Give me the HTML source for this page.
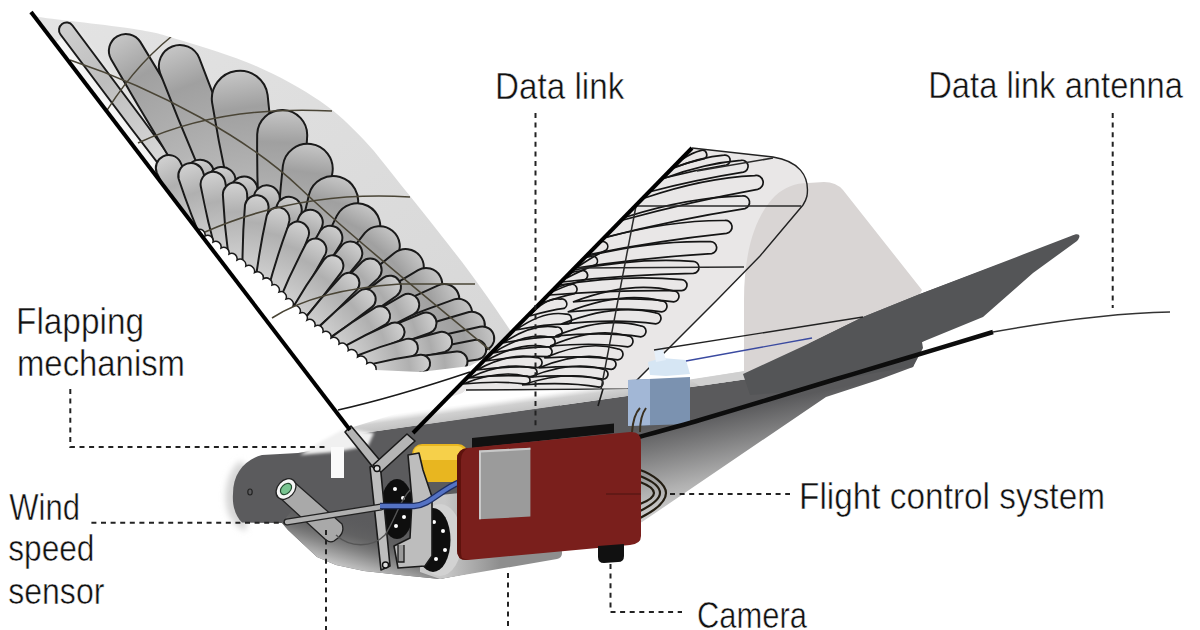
<!DOCTYPE html>
<html><head><meta charset="utf-8">
<style>
html,body{margin:0;padding:0;background:#fff;width:1200px;height:630px;overflow:hidden}
svg{display:block}
text{font-family:"Liberation Sans",sans-serif;font-size:36.4px;fill:#111;stroke:#fff;stroke-width:0.5px}
</style></head>
<body>
<svg width="1200" height="630" viewBox="0 0 1200 630">
<defs>
  <linearGradient id="lwing" x1="0" y1="0" x2="1" y2="1">
    <stop offset="0" stop-color="#e4e4e4"/>
    <stop offset="1" stop-color="#d4d4d4"/>
  </linearGradient>
  <linearGradient id="bodyg" x1="0" y1="0" x2="0" y2="1">
    <stop offset="0" stop-color="#4e4e4e"/>
    <stop offset="0.5" stop-color="#6a6a6a"/>
    <stop offset="1" stop-color="#e6e6e6"/>
  </linearGradient>
  <linearGradient id="tailbody" x1="0" y1="0" x2="0.3" y2="1">
    <stop offset="0" stop-color="#4a4a4a"/>
    <stop offset="0.55" stop-color="#8a8a8a"/>
    <stop offset="1" stop-color="#f0f0f0"/>
  </linearGradient>
  <clipPath id="lwclip"><path d="M31.0,12.0 C32.3,12.8 21.8,14.2 39.0,17.0 C56.2,19.8 110.5,25.2 134.0,29.0 C157.5,32.8 159.7,33.8 180.0,40.0 C200.3,46.2 232.7,55.8 256.0,66.0 C279.3,76.2 302.0,88.7 320.0,101.0 C338.0,113.3 350.5,126.0 364.0,140.0 C377.5,154.0 388.8,170.0 401.0,185.0 C413.2,200.0 425.8,215.8 437.0,230.0 C448.2,244.2 458.7,257.5 468.0,270.0 C477.3,282.5 485.7,294.5 493.0,305.0 C500.3,315.5 508.8,328.3 512.0,333.0 L528,343 L413,433 L350,430 Z"/></clipPath>
<linearGradient id="rearg" gradientUnits="userSpaceOnUse" x1="660" y1="425" x2="680" y2="520">
    <stop offset="0" stop-color="#5a5a5c"/><stop offset="0.25" stop-color="#7a7a7b"/><stop offset="0.65" stop-color="#b0b0b0"/><stop offset="1" stop-color="#d8d8d8"/></linearGradient>
  <linearGradient id="frontg" gradientUnits="userSpaceOnUse" x1="300" y1="440" x2="258" y2="580">
    <stop offset="0" stop-color="#5a5a5c"/><stop offset="0.64" stop-color="#5c5c5e"/><stop offset="0.75" stop-color="#959595"/><stop offset="0.86" stop-color="#c8c8c8"/><stop offset="1" stop-color="#e4e4e4"/></linearGradient>
  <linearGradient id="bandg" gradientUnits="userSpaceOnUse" x1="560" y1="405.4" x2="558" y2="391">
    <stop offset="0" stop-color="#c2c2c2"/><stop offset="0.5" stop-color="#d0d0d0"/><stop offset="0.85" stop-color="#f6f6f6"/><stop offset="1" stop-color="#ffffff"/></linearGradient>
<filter id="blur3" x="-50%" y="-50%" width="200%" height="200%"><feGaussianBlur stdDeviation="3"/></filter>
<filter id="blur2" x="-50%" y="-50%" width="200%" height="200%"><feGaussianBlur stdDeviation="1.5"/></filter>
<linearGradient id="bellyg" gradientUnits="userSpaceOnUse" x1="372" y1="520" x2="356" y2="574">
    <stop offset="0" stop-color="#5b5b5d" stop-opacity="0"/><stop offset="0.35" stop-color="#666" stop-opacity="0.6"/><stop offset="0.65" stop-color="#8c8c8c"/><stop offset="0.88" stop-color="#b8b8b8"/><stop offset="1" stop-color="#cfcfcf"/></linearGradient>
<linearGradient id="housg" gradientUnits="userSpaceOnUse" x1="445" y1="0" x2="500" y2="0">
    <stop offset="0" stop-color="#c8c8c8"/><stop offset="1" stop-color="#8e8e8e"/></linearGradient>
<linearGradient id="leglow" gradientUnits="userSpaceOnUse" x1="130" y1="142" x2="153.9" y2="123.8">
    <stop offset="0" stop-color="#fff" stop-opacity="0.85"/><stop offset="1" stop-color="#fff" stop-opacity="0"/></linearGradient>
<linearGradient id="lp0" gradientUnits="userSpaceOnUse" x1="62.0" y1="24.0" x2="206.0" y2="216.0"><stop offset="0" stop-color="#cfcfcf"/><stop offset="0.3" stop-color="#bdbdbd"/><stop offset="1" stop-color="#ececec"/></linearGradient>
<linearGradient id="lp1" gradientUnits="userSpaceOnUse" x1="117.0" y1="36.0" x2="236.0" y2="236.0"><stop offset="0" stop-color="#c6c6c6"/><stop offset="0.2" stop-color="#a0a0a0"/><stop offset="0.6" stop-color="#b6b6b6"/><stop offset="1" stop-color="#e2e2e2"/></linearGradient>
<linearGradient id="lp2" gradientUnits="userSpaceOnUse" x1="172.0" y1="46.0" x2="250.0" y2="246.0"><stop offset="0" stop-color="#c6c6c6"/><stop offset="0.2" stop-color="#a0a0a0"/><stop offset="0.6" stop-color="#b6b6b6"/><stop offset="1" stop-color="#e2e2e2"/></linearGradient>
<linearGradient id="lp3" gradientUnits="userSpaceOnUse" x1="236.0" y1="71.0" x2="262.0" y2="258.0"><stop offset="0" stop-color="#c6c6c6"/><stop offset="0.2" stop-color="#a0a0a0"/><stop offset="0.6" stop-color="#b6b6b6"/><stop offset="1" stop-color="#e2e2e2"/></linearGradient>
<linearGradient id="lp4" gradientUnits="userSpaceOnUse" x1="283.0" y1="110.0" x2="278.0" y2="272.0"><stop offset="0" stop-color="#c6c6c6"/><stop offset="0.2" stop-color="#a0a0a0"/><stop offset="0.6" stop-color="#b6b6b6"/><stop offset="1" stop-color="#e2e2e2"/></linearGradient>
<linearGradient id="lp5" gradientUnits="userSpaceOnUse" x1="311.0" y1="144.0" x2="292.0" y2="286.0"><stop offset="0" stop-color="#c6c6c6"/><stop offset="0.2" stop-color="#a0a0a0"/><stop offset="0.6" stop-color="#b6b6b6"/><stop offset="1" stop-color="#e2e2e2"/></linearGradient>
<linearGradient id="lp6" gradientUnits="userSpaceOnUse" x1="340.0" y1="177.0" x2="305.0" y2="300.0"><stop offset="0" stop-color="#c6c6c6"/><stop offset="0.2" stop-color="#a0a0a0"/><stop offset="0.6" stop-color="#b6b6b6"/><stop offset="1" stop-color="#e2e2e2"/></linearGradient>
<linearGradient id="lp7" gradientUnits="userSpaceOnUse" x1="368.0" y1="206.0" x2="312.0" y2="312.0"><stop offset="0" stop-color="#c6c6c6"/><stop offset="0.2" stop-color="#a0a0a0"/><stop offset="0.6" stop-color="#b6b6b6"/><stop offset="1" stop-color="#e2e2e2"/></linearGradient>
<linearGradient id="lp8" gradientUnits="userSpaceOnUse" x1="393.0" y1="230.0" x2="318.0" y2="322.0"><stop offset="0" stop-color="#c6c6c6"/><stop offset="0.2" stop-color="#a0a0a0"/><stop offset="0.6" stop-color="#b6b6b6"/><stop offset="1" stop-color="#e2e2e2"/></linearGradient>
<linearGradient id="lp9" gradientUnits="userSpaceOnUse" x1="420.0" y1="256.0" x2="322.0" y2="332.0"><stop offset="0" stop-color="#c6c6c6"/><stop offset="0.2" stop-color="#a0a0a0"/><stop offset="0.6" stop-color="#b6b6b6"/><stop offset="1" stop-color="#e2e2e2"/></linearGradient>
<linearGradient id="lp10" gradientUnits="userSpaceOnUse" x1="440.0" y1="276.0" x2="330.0" y2="340.0"><stop offset="0" stop-color="#c6c6c6"/><stop offset="0.2" stop-color="#a0a0a0"/><stop offset="0.6" stop-color="#b6b6b6"/><stop offset="1" stop-color="#e2e2e2"/></linearGradient>
<linearGradient id="lp11" gradientUnits="userSpaceOnUse" x1="458.0" y1="293.0" x2="335.0" y2="347.0"><stop offset="0" stop-color="#c6c6c6"/><stop offset="0.2" stop-color="#a0a0a0"/><stop offset="0.6" stop-color="#b6b6b6"/><stop offset="1" stop-color="#e2e2e2"/></linearGradient>
<linearGradient id="lp12" gradientUnits="userSpaceOnUse" x1="472.0" y1="308.0" x2="340.0" y2="354.0"><stop offset="0" stop-color="#c6c6c6"/><stop offset="0.2" stop-color="#a0a0a0"/><stop offset="0.6" stop-color="#b6b6b6"/><stop offset="1" stop-color="#e2e2e2"/></linearGradient>
<linearGradient id="lp13" gradientUnits="userSpaceOnUse" x1="485.0" y1="321.0" x2="345.0" y2="360.0"><stop offset="0" stop-color="#c6c6c6"/><stop offset="0.2" stop-color="#a0a0a0"/><stop offset="0.6" stop-color="#b6b6b6"/><stop offset="1" stop-color="#e2e2e2"/></linearGradient>
<linearGradient id="lp14" gradientUnits="userSpaceOnUse" x1="494.0" y1="336.0" x2="350.0" y2="366.0"><stop offset="0" stop-color="#c6c6c6"/><stop offset="0.2" stop-color="#a0a0a0"/><stop offset="0.6" stop-color="#b6b6b6"/><stop offset="1" stop-color="#e2e2e2"/></linearGradient>
<linearGradient id="lp15" gradientUnits="userSpaceOnUse" x1="486.0" y1="348.0" x2="355.0" y2="371.0"><stop offset="0" stop-color="#c6c6c6"/><stop offset="0.2" stop-color="#a0a0a0"/><stop offset="0.6" stop-color="#b6b6b6"/><stop offset="1" stop-color="#e2e2e2"/></linearGradient>
<linearGradient id="lm0" gradientUnits="userSpaceOnUse" x1="196.6" y1="160.1" x2="214.0" y2="230.0"><stop offset="0" stop-color="#d0d0d0"/><stop offset="0.3" stop-color="#acacac"/><stop offset="1" stop-color="#e8e8e8"/></linearGradient>
<linearGradient id="lm1" gradientUnits="userSpaceOnUse" x1="220.3" y1="167.1" x2="228.4" y2="239.0"><stop offset="0" stop-color="#d0d0d0"/><stop offset="0.3" stop-color="#acacac"/><stop offset="1" stop-color="#e8e8e8"/></linearGradient>
<linearGradient id="lm2" gradientUnits="userSpaceOnUse" x1="244.4" y1="175.5" x2="243.0" y2="248.1"><stop offset="0" stop-color="#d0d0d0"/><stop offset="0.3" stop-color="#acacac"/><stop offset="1" stop-color="#e8e8e8"/></linearGradient>
<linearGradient id="lm3" gradientUnits="userSpaceOnUse" x1="268.7" y1="185.2" x2="257.8" y2="257.3"><stop offset="0" stop-color="#d0d0d0"/><stop offset="0.3" stop-color="#acacac"/><stop offset="1" stop-color="#e8e8e8"/></linearGradient>
<linearGradient id="lm4" gradientUnits="userSpaceOnUse" x1="292.8" y1="196.4" x2="272.4" y2="266.8"><stop offset="0" stop-color="#d0d0d0"/><stop offset="0.3" stop-color="#acacac"/><stop offset="1" stop-color="#e8e8e8"/></linearGradient>
<linearGradient id="lm5" gradientUnits="userSpaceOnUse" x1="315.5" y1="210.5" x2="285.9" y2="277.8"><stop offset="0" stop-color="#d0d0d0"/><stop offset="0.3" stop-color="#acacac"/><stop offset="1" stop-color="#e8e8e8"/></linearGradient>
<linearGradient id="lm6" gradientUnits="userSpaceOnUse" x1="337.0" y1="226.6" x2="298.8" y2="289.8"><stop offset="0" stop-color="#d0d0d0"/><stop offset="0.3" stop-color="#acacac"/><stop offset="1" stop-color="#e8e8e8"/></linearGradient>
<linearGradient id="lm7" gradientUnits="userSpaceOnUse" x1="357.9" y1="244.1" x2="311.4" y2="302.0"><stop offset="0" stop-color="#d0d0d0"/><stop offset="0.3" stop-color="#acacac"/><stop offset="1" stop-color="#e8e8e8"/></linearGradient>
<linearGradient id="lm8" gradientUnits="userSpaceOnUse" x1="378.5" y1="262.1" x2="324.7" y2="313.5"><stop offset="0" stop-color="#d0d0d0"/><stop offset="0.3" stop-color="#acacac"/><stop offset="1" stop-color="#e8e8e8"/></linearGradient>
<linearGradient id="lm9" gradientUnits="userSpaceOnUse" x1="398.8" y1="280.3" x2="338.4" y2="324.5"><stop offset="0" stop-color="#d0d0d0"/><stop offset="0.3" stop-color="#acacac"/><stop offset="1" stop-color="#e8e8e8"/></linearGradient>
<linearGradient id="lm10" gradientUnits="userSpaceOnUse" x1="417.9" y1="299.6" x2="352.0" y2="335.5"><stop offset="0" stop-color="#d0d0d0"/><stop offset="0.3" stop-color="#acacac"/><stop offset="1" stop-color="#e8e8e8"/></linearGradient>
<linearGradient id="lm11" gradientUnits="userSpaceOnUse" x1="435.9" y1="319.3" x2="365.5" y2="346.4"><stop offset="0" stop-color="#d0d0d0"/><stop offset="0.3" stop-color="#acacac"/><stop offset="1" stop-color="#e8e8e8"/></linearGradient>
<linearGradient id="lm12" gradientUnits="userSpaceOnUse" x1="452.4" y1="339.6" x2="378.9" y2="357.3"><stop offset="0" stop-color="#d0d0d0"/><stop offset="0.3" stop-color="#acacac"/><stop offset="1" stop-color="#e8e8e8"/></linearGradient>
<linearGradient id="lm13" gradientUnits="userSpaceOnUse" x1="467.5" y1="360.4" x2="391.9" y2="368.3"><stop offset="0" stop-color="#d0d0d0"/><stop offset="0.3" stop-color="#acacac"/><stop offset="1" stop-color="#e8e8e8"/></linearGradient>
<linearGradient id="lc0" gradientUnits="userSpaceOnUse" x1="162.7" y1="155.6" x2="202.6" y2="237.4"><stop offset="0" stop-color="#d2d2d2"/><stop offset="0.35" stop-color="#b0b0b0"/><stop offset="1" stop-color="#d4d4d4"/></linearGradient>
<linearGradient id="lc1" gradientUnits="userSpaceOnUse" x1="186.8" y1="163.0" x2="214.6" y2="247.4"><stop offset="0" stop-color="#d2d2d2"/><stop offset="0.35" stop-color="#b0b0b0"/><stop offset="1" stop-color="#d4d4d4"/></linearGradient>
<linearGradient id="lc2" gradientUnits="userSpaceOnUse" x1="210.7" y1="172.0" x2="226.6" y2="257.2"><stop offset="0" stop-color="#d2d2d2"/><stop offset="0.35" stop-color="#b0b0b0"/><stop offset="1" stop-color="#d4d4d4"/></linearGradient>
<linearGradient id="lc3" gradientUnits="userSpaceOnUse" x1="234.4" y1="182.5" x2="238.6" y2="266.9"><stop offset="0" stop-color="#d2d2d2"/><stop offset="0.35" stop-color="#b0b0b0"/><stop offset="1" stop-color="#d4d4d4"/></linearGradient>
<linearGradient id="lc4" gradientUnits="userSpaceOnUse" x1="257.8" y1="194.1" x2="250.8" y2="276.2"><stop offset="0" stop-color="#d2d2d2"/><stop offset="0.35" stop-color="#b0b0b0"/><stop offset="1" stop-color="#d4d4d4"/></linearGradient>
<linearGradient id="lc5" gradientUnits="userSpaceOnUse" x1="280.5" y1="207.1" x2="263.1" y2="285.4"><stop offset="0" stop-color="#d2d2d2"/><stop offset="0.35" stop-color="#b0b0b0"/><stop offset="1" stop-color="#d4d4d4"/></linearGradient>
<linearGradient id="lc6" gradientUnits="userSpaceOnUse" x1="301.7" y1="222.0" x2="274.6" y2="295.3"><stop offset="0" stop-color="#d2d2d2"/><stop offset="0.35" stop-color="#b0b0b0"/><stop offset="1" stop-color="#d4d4d4"/></linearGradient>
<linearGradient id="lc7" gradientUnits="userSpaceOnUse" x1="320.9" y1="239.2" x2="285.2" y2="306.3"><stop offset="0" stop-color="#d2d2d2"/><stop offset="0.35" stop-color="#b0b0b0"/><stop offset="1" stop-color="#d4d4d4"/></linearGradient>
<linearGradient id="lc8" gradientUnits="userSpaceOnUse" x1="338.9" y1="257.2" x2="295.8" y2="317.2"><stop offset="0" stop-color="#d2d2d2"/><stop offset="0.35" stop-color="#b0b0b0"/><stop offset="1" stop-color="#d4d4d4"/></linearGradient>
<linearGradient id="lc9" gradientUnits="userSpaceOnUse" x1="356.3" y1="275.4" x2="307.0" y2="327.5"><stop offset="0" stop-color="#d2d2d2"/><stop offset="0.35" stop-color="#b0b0b0"/><stop offset="1" stop-color="#d4d4d4"/></linearGradient>
<linearGradient id="lc10" gradientUnits="userSpaceOnUse" x1="373.5" y1="292.8" x2="319.3" y2="336.5"><stop offset="0" stop-color="#d2d2d2"/><stop offset="0.35" stop-color="#b0b0b0"/><stop offset="1" stop-color="#d4d4d4"/></linearGradient>
<linearGradient id="lc11" gradientUnits="userSpaceOnUse" x1="389.3" y1="310.5" x2="331.6" y2="345.4"><stop offset="0" stop-color="#d2d2d2"/><stop offset="0.35" stop-color="#b0b0b0"/><stop offset="1" stop-color="#d4d4d4"/></linearGradient>
<linearGradient id="lc12" gradientUnits="userSpaceOnUse" x1="404.2" y1="328.0" x2="344.3" y2="354.0"><stop offset="0" stop-color="#d2d2d2"/><stop offset="0.35" stop-color="#b0b0b0"/><stop offset="1" stop-color="#d4d4d4"/></linearGradient>
<linearGradient id="lc13" gradientUnits="userSpaceOnUse" x1="417.9" y1="345.3" x2="357.1" y2="362.4"><stop offset="0" stop-color="#d2d2d2"/><stop offset="0.35" stop-color="#b0b0b0"/><stop offset="1" stop-color="#d4d4d4"/></linearGradient>
<linearGradient id="lc14" gradientUnits="userSpaceOnUse" x1="430.5" y1="362.3" x2="370.1" y2="370.8"><stop offset="0" stop-color="#d2d2d2"/><stop offset="0.35" stop-color="#b0b0b0"/><stop offset="1" stop-color="#d4d4d4"/></linearGradient>
</defs>

<!-- vertical tail fin -->


<!-- LEFT WING -->
<g clip-path="url(#lwclip)">
<rect x="0" y="0" width="600" height="450" fill="url(#lwing)"/>
<path d="M55,43 L205,238 L232,218 L80,24 Z" fill="url(#leglow)"/>
<path d="M201.2,219.6 Q129.9,127.7 60.5,34.5 A7.5,7.5 0 0 1 72.5,25.5 Q142.6,118.3 210.8,212.4" fill="url(#lp0)" stroke="#1a1a1a" stroke-width="2.0" stroke-linejoin="round"/>
<path d="M223.1,243.7 Q164.9,152.8 111.1,59.3 A17.0,17.0 0 0 1 140.3,41.9 Q196.8,133.8 248.9,228.3" fill="url(#lp1)" stroke="#1a1a1a" stroke-width="2.0" stroke-linejoin="round"/>
<path d="M236.0,251.5 Q195.1,163.5 160.1,73.2 A21.0,21.0 0 0 1 199.2,57.9 Q234.5,148.1 264.0,240.5" fill="url(#lp2)" stroke="#1a1a1a" stroke-width="2.0" stroke-linejoin="round"/>
<path d="M246.2,260.2 Q225.0,182.0 212.1,102.6 A28.0,28.0 0 0 1 267.6,94.9 Q276.9,174.8 277.8,255.8" fill="url(#lp3)" stroke="#1a1a1a" stroke-width="2.0" stroke-linejoin="round"/>
<path d="M263.0,271.5 Q256.4,202.8 257.2,134.2 A25.0,25.0 0 0 1 307.2,135.8 Q303.9,204.2 293.0,272.5" fill="url(#lp4)" stroke="#1a1a1a" stroke-width="2.0" stroke-linejoin="round"/>
<path d="M277.1,284.0 Q276.3,224.2 282.9,165.5 A25.0,25.0 0 0 1 332.5,172.1 Q323.4,230.5 306.9,288.0" fill="url(#lp5)" stroke="#1a1a1a" stroke-width="2.0" stroke-linejoin="round"/>
<path d="M290.6,295.9 Q296.2,244.0 309.1,194.2 A25.0,25.0 0 0 1 357.2,207.9 Q341.9,257.0 319.4,304.1" fill="url(#lp6)" stroke="#1a1a1a" stroke-width="2.0" stroke-linejoin="round"/>
<path d="M299.6,305.5 Q315.2,258.9 336.9,215.6 A23.0,23.0 0 0 1 377.6,237.1 Q354.0,279.4 324.4,318.5" fill="url(#lp7)" stroke="#1a1a1a" stroke-width="2.0" stroke-linejoin="round"/>
<path d="M307.9,313.8 Q334.1,271.4 364.9,232.9 A20.0,20.0 0 0 1 395.9,258.1 Q364.3,296.1 328.1,330.2" fill="url(#lp8)" stroke="#1a1a1a" stroke-width="2.0" stroke-linejoin="round"/>
<path d="M314.6,322.5 Q353.0,285.5 394.7,252.8 A18.0,18.0 0 0 1 416.8,281.3 Q374.7,313.5 329.4,341.5" fill="url(#lp9)" stroke="#1a1a1a" stroke-width="2.0" stroke-linejoin="round"/>
<path d="M324.5,330.5 Q370.1,298.3 418.1,270.2 A16.0,16.0 0 0 1 434.2,297.9 Q386.1,325.8 335.5,349.5" fill="url(#lp10)" stroke="#1a1a1a" stroke-width="2.0" stroke-linejoin="round"/>
<path d="M331.0,337.8 Q383.7,309.5 438.2,285.3 A15.0,15.0 0 0 1 450.3,312.8 Q395.6,336.5 339.0,356.2" fill="url(#lp11)" stroke="#1a1a1a" stroke-width="2.0" stroke-linejoin="round"/>
<path d="M337.0,345.5 Q394.9,320.5 454.2,299.4 A14.0,14.0 0 0 1 463.4,325.8 Q403.9,346.1 343.0,362.5" fill="url(#lp12)" stroke="#1a1a1a" stroke-width="2.0" stroke-linejoin="round"/>
<path d="M342.9,352.3 Q405.4,330.3 469.0,312.0 A13.0,13.0 0 0 1 476.0,337.0 Q412.1,354.2 347.1,367.7" fill="url(#lp13)" stroke="#1a1a1a" stroke-width="2.0" stroke-linejoin="round"/>
<path d="M348.6,359.1 Q413.8,341.2 479.8,326.7 A12.0,12.0 0 0 1 484.7,350.2 Q418.4,363.3 351.4,372.9" fill="url(#lp14)" stroke="#1a1a1a" stroke-width="2.0" stroke-linejoin="round"/>
<path d="M354.0,365.1 Q413.9,351.0 474.4,339.9 A10.0,10.0 0 0 1 477.9,359.6 Q417.2,369.7 356.0,376.9" fill="url(#lp15)" stroke="#1a1a1a" stroke-width="2.0" stroke-linejoin="round"/>
<path d="M204.5,232.4 Q193.4,205.2 186.4,177.1 A14.0,14.0 0 0 1 213.6,170.3 Q220.6,198.5 223.5,227.6" fill="url(#lm0)" stroke="#1a1a1a" stroke-width="2.0" stroke-linejoin="round"/>
<path d="M218.9,240.1 Q211.5,211.4 208.2,182.3 A13.7,13.7 0 0 1 235.5,179.2 Q238.8,208.3 238.0,237.9" fill="url(#lm1)" stroke="#1a1a1a" stroke-width="2.0" stroke-linejoin="round"/>
<path d="M233.7,247.9 Q230.2,218.2 230.8,188.6 A13.4,13.4 0 0 1 257.5,189.1 Q257.0,218.7 252.4,248.3" fill="url(#lm2)" stroke="#1a1a1a" stroke-width="2.0" stroke-linejoin="round"/>
<path d="M248.7,255.9 Q249.3,225.8 253.8,196.2 A13.1,13.1 0 0 1 279.7,200.1 Q275.2,229.7 266.8,258.7" fill="url(#lm3)" stroke="#1a1a1a" stroke-width="2.0" stroke-linejoin="round"/>
<path d="M263.9,264.3 Q268.6,234.2 277.0,205.1 A12.8,12.8 0 0 1 301.5,212.2 Q293.1,241.3 281.0,269.3" fill="url(#lm4)" stroke="#1a1a1a" stroke-width="2.0" stroke-linejoin="round"/>
<path d="M277.9,274.3 Q286.8,244.9 299.0,216.9 A12.5,12.5 0 0 1 321.9,226.9 Q309.6,254.9 293.9,281.3" fill="url(#lm5)" stroke="#1a1a1a" stroke-width="2.0" stroke-linejoin="round"/>
<path d="M291.5,285.4 Q304.4,257.1 320.3,230.7 A12.2,12.2 0 0 1 341.1,243.3 Q325.1,269.7 306.0,294.2" fill="url(#lm6)" stroke="#1a1a1a" stroke-width="2.0" stroke-linejoin="round"/>
<path d="M305.0,296.8 Q321.7,270.2 341.2,246.0 A11.8,11.8 0 0 1 359.7,260.8 Q340.2,285.1 317.9,307.1" fill="url(#lm7)" stroke="#1a1a1a" stroke-width="2.0" stroke-linejoin="round"/>
<path d="M319.1,307.7 Q339.5,283.5 362.2,261.7 A11.5,11.5 0 0 1 378.1,278.4 Q355.4,300.1 330.3,319.4" fill="url(#lm8)" stroke="#1a1a1a" stroke-width="2.0" stroke-linejoin="round"/>
<path d="M333.8,318.1 Q357.5,296.6 383.1,277.9 A11.2,11.2 0 0 1 396.4,296.0 Q370.7,314.8 343.1,330.8" fill="url(#lm9)" stroke="#1a1a1a" stroke-width="2.0" stroke-linejoin="round"/>
<path d="M348.3,328.8 Q374.9,310.6 403.1,295.2 A10.9,10.9 0 0 1 413.5,314.4 Q385.4,329.8 355.6,342.3" fill="url(#lm10)" stroke="#1a1a1a" stroke-width="2.0" stroke-linejoin="round"/>
<path d="M362.9,339.5 Q391.9,324.9 422.2,313.2 A10.6,10.6 0 0 1 429.8,333.0 Q399.6,344.7 368.2,353.3" fill="url(#lm11)" stroke="#1a1a1a" stroke-width="2.0" stroke-linejoin="round"/>
<path d="M377.2,350.3 Q408.2,339.7 440.0,332.0 A10.3,10.3 0 0 1 444.8,352.0 Q413.1,359.7 380.5,364.3" fill="url(#lm12)" stroke="#1a1a1a" stroke-width="2.0" stroke-linejoin="round"/>
<path d="M391.2,361.4 Q423.7,354.9 456.5,351.5 A10.0,10.0 0 0 1 458.6,371.4 Q425.8,374.8 392.6,375.3" fill="url(#lm13)" stroke="#1a1a1a" stroke-width="2.0" stroke-linejoin="round"/>
<path d="M194.5,241.4 Q173.8,208.0 156.8,173.0 A13.0,13.0 0 0 1 180.1,161.6 Q197.2,196.6 210.8,233.4" fill="url(#lc0)" stroke="#1a1a1a" stroke-width="2.0" stroke-linejoin="round"/>
<path d="M206.2,250.2 Q190.6,215.2 178.7,179.0 A12.7,12.7 0 0 1 202.8,171.1 Q214.8,207.2 223.1,244.6" fill="url(#lc1)" stroke="#1a1a1a" stroke-width="2.0" stroke-linejoin="round"/>
<path d="M218.1,258.8 Q207.6,223.0 200.8,186.5 A12.4,12.4 0 0 1 225.2,181.9 Q232.0,218.4 235.2,255.6" fill="url(#lc2)" stroke="#1a1a1a" stroke-width="2.0" stroke-linejoin="round"/>
<path d="M230.1,267.4 Q224.7,231.4 222.9,195.2 A12.1,12.1 0 0 1 247.1,194.0 Q248.9,230.2 247.1,266.5" fill="url(#lc3)" stroke="#1a1a1a" stroke-width="2.0" stroke-linejoin="round"/>
<path d="M242.6,275.5 Q242.0,240.1 245.0,204.9 A11.9,11.9 0 0 1 268.6,206.9 Q265.6,242.1 259.1,276.9" fill="url(#lc4)" stroke="#1a1a1a" stroke-width="2.0" stroke-linejoin="round"/>
<path d="M255.2,283.6 Q259.3,249.4 266.7,215.8 A11.6,11.6 0 0 1 289.3,220.9 Q281.8,254.4 271.0,287.2" fill="url(#lc5)" stroke="#1a1a1a" stroke-width="2.0" stroke-linejoin="round"/>
<path d="M267.2,292.6 Q275.6,260.1 287.2,228.7 A11.3,11.3 0 0 1 308.4,236.5 Q296.8,267.9 282.0,298.1" fill="url(#lc6)" stroke="#1a1a1a" stroke-width="2.0" stroke-linejoin="round"/>
<path d="M278.4,302.7 Q290.7,272.5 306.0,243.8 A11.0,11.0 0 0 1 325.4,254.1 Q310.2,282.8 292.0,309.9" fill="url(#lc7)" stroke="#1a1a1a" stroke-width="2.0" stroke-linejoin="round"/>
<path d="M289.7,312.8 Q305.6,285.3 324.0,259.7 A10.7,10.7 0 0 1 341.4,272.2 Q323.0,297.8 301.9,321.6" fill="url(#lc8)" stroke="#1a1a1a" stroke-width="2.0" stroke-linejoin="round"/>
<path d="M301.7,322.4 Q320.5,298.0 341.6,275.8 A10.4,10.4 0 0 1 356.7,290.1 Q335.7,312.4 312.3,332.5" fill="url(#lc9)" stroke="#1a1a1a" stroke-width="2.0" stroke-linejoin="round"/>
<path d="M314.8,330.9 Q336.1,309.9 359.2,291.3 A10.1,10.1 0 0 1 371.9,307.1 Q348.8,325.7 323.7,342.0" fill="url(#lc10)" stroke="#1a1a1a" stroke-width="2.0" stroke-linejoin="round"/>
<path d="M328.1,339.5 Q351.2,322.1 375.8,307.2 A9.9,9.9 0 0 1 386.0,324.1 Q361.4,339.0 335.2,351.3" fill="url(#lc11)" stroke="#1a1a1a" stroke-width="2.0" stroke-linejoin="round"/>
<path d="M341.6,347.8 Q366.1,334.1 391.6,323.0 A9.6,9.6 0 0 1 399.2,340.6 Q373.7,351.7 347.0,360.1" fill="url(#lc12)" stroke="#1a1a1a" stroke-width="2.0" stroke-linejoin="round"/>
<path d="M355.4,356.2 Q380.5,346.2 406.5,338.9 A9.3,9.3 0 0 1 411.5,356.8 Q385.6,364.1 358.9,368.7" fill="url(#lc13)" stroke="#1a1a1a" stroke-width="2.0" stroke-linejoin="round"/>
<path d="M369.2,364.6 Q394.6,358.3 420.3,354.7 A9.0,9.0 0 0 1 422.8,372.5 Q397.1,376.1 370.9,377.1" fill="url(#lc14)" stroke="#1a1a1a" stroke-width="2.0" stroke-linejoin="round"/>
<path d="M194.0,226.0 L197.0,230.0 A5.5,5.5 0 0 1 205.0,236.0 A5.5,5.5 0 0 1 213.0,242.0 A5.5,5.5 0 0 1 221.0,248.0 A5.5,5.5 0 0 1 229.0,254.0 A5.5,5.5 0 0 1 237.0,260.0 A5.9,5.9 0 0 1 245.8,266.2 A5.9,5.9 0 0 1 254.5,272.5 A5.9,5.9 0 0 1 263.2,278.8 A5.9,5.9 0 0 1 272.0,285.0 A5.4,5.4 0 0 1 279.0,292.0 A5.4,5.4 0 0 1 286.0,299.0 A5.4,5.4 0 0 1 293.0,306.0 A5.4,5.4 0 0 1 300.0,313.0 A5.4,5.4 0 0 1 307.0,320.0 A5.5,5.5 0 0 1 315.0,326.0 A5.5,5.5 0 0 1 323.0,332.0 A5.5,5.5 0 0 1 331.0,338.0 A5.5,5.5 0 0 1 339.0,344.0 A6.2,6.2 0 0 1 348.2,350.5 A6.2,6.2 0 0 1 357.5,357.0 A6.2,6.2 0 0 1 366.8,363.5 A6.2,6.2 0 0 1 376.0,370.0 L420,372 L470,366 L505,346 L522,338 L528,343 L413,433 L350,430 Z" fill="#fff"/><path d="M197,230 L197.0,230.0 A5.5,5.5 0 0 1 205.0,236.0 A5.5,5.5 0 0 1 213.0,242.0 A5.5,5.5 0 0 1 221.0,248.0 A5.5,5.5 0 0 1 229.0,254.0 A5.5,5.5 0 0 1 237.0,260.0 A5.9,5.9 0 0 1 245.8,266.2 A5.9,5.9 0 0 1 254.5,272.5 A5.9,5.9 0 0 1 263.2,278.8 A5.9,5.9 0 0 1 272.0,285.0 A5.4,5.4 0 0 1 279.0,292.0 A5.4,5.4 0 0 1 286.0,299.0 A5.4,5.4 0 0 1 293.0,306.0 A5.4,5.4 0 0 1 300.0,313.0 A5.4,5.4 0 0 1 307.0,320.0 A5.5,5.5 0 0 1 315.0,326.0 A5.5,5.5 0 0 1 323.0,332.0 A5.5,5.5 0 0 1 331.0,338.0 A5.5,5.5 0 0 1 339.0,344.0 A6.2,6.2 0 0 1 348.2,350.5 A6.2,6.2 0 0 1 357.5,357.0 A6.2,6.2 0 0 1 366.8,363.5 A6.2,6.2 0 0 1 376.0,370.0" fill="none" stroke="#1a1a1a" stroke-width="1.5"/>
<g fill="none" stroke="#4a4536" stroke-width="1.6">
<path d="M70,60 C160,90 250,140 300,188 S430,300 490,350"/>
<path d="M172,36 Q130,70 100,122"/>
<path d="M138,143 Q220,105 332,111"/>
<path d="M205,232 Q300,190 410,197"/>
<path d="M272,318 C300,300 340,288 400,284 L475,284"/>
</g>
<path d="M338,410 Q392,398 470,372" fill="none" stroke="#1a1a1a" stroke-width="1.6"/>
</g>

<!-- RIGHT WING -->
<clipPath id="rwclip"><path d="M692,148 L773,157 C798,161 810,175 807,196 C806,200 805,202 803,205 L760,256 L717,300 L628,389 L466,390 L413,433 Z"/></clipPath>
<path id="rwmem" d="M692,148 L773,157 C798,161 810,175 807,196 C806,200 805,202 803,205 L760,256 L717,300 L628,389 L466,390 L413,433 Z" fill="#e9e7e7"/>
<path id="fin" d="M744,376 L744,300 C744,252 755,216 775,196 C785,187 795,183 808,183 L824,182 Q836,182 843,190 L922,290 L900,330 L760,376 Z" fill="#d9d5d4"/>
<g clip-path="url(#rwclip)">
<path d="M682.7,159.0 Q692.3,152.5 701.3,150.3 A4.5,4.5 0 0 1 704.3,158.7 Q689.3,162.2 674.9,167.0" fill="none" stroke="#151515" stroke-width="1.7" stroke-linejoin="round"/>
<path d="M673.9,168.0 Q700.6,157.3 724.0,155.2 A5.0,5.0 0 0 1 726.2,165.0 Q694.9,170.0 664.1,178.0" fill="none" stroke="#151515" stroke-width="1.7" stroke-linejoin="round"/>
<path d="M663.6,178.5 Q704.9,163.1 740.8,160.4 A6.0,6.0 0 0 1 743.4,172.2 Q696.7,179.6 650.9,191.5" fill="none" stroke="#151515" stroke-width="1.7" stroke-linejoin="round"/>
<path d="M644.6,198.0 Q703.4,177.9 754.7,175.6 A7.0,7.0 0 0 1 757.6,189.3 Q689.7,201.6 623.0,220.0" fill="none" stroke="#151515" stroke-width="1.7" stroke-linejoin="round"/>
<path d="M626.0,217.0 Q688.4,197.3 742.4,195.9 A6.5,6.5 0 0 1 744.9,208.6 Q675.0,219.6 606.4,237.0" fill="none" stroke="#151515" stroke-width="1.7" stroke-linejoin="round"/>
<path d="M605.9,237.5 Q670.0,220.1 724.6,220.5 A6.5,6.5 0 0 1 726.5,233.4 Q657.4,240.7 589.2,254.5" fill="none" stroke="#151515" stroke-width="1.7" stroke-linejoin="round"/>
<path d="M587.8,256.0 Q654.3,240.0 710.4,241.7 A6.0,6.0 0 0 1 711.7,253.6 Q643.5,257.6 576.0,268.0" fill="none" stroke="#151515" stroke-width="1.7" stroke-linejoin="round"/>
<path d="M574.1,270.0 Q638.7,257.4 692.6,261.4 A6.0,6.0 0 0 1 693.4,273.4 Q627.7,274.6 562.3,282.0" fill="none" stroke="#151515" stroke-width="1.7" stroke-linejoin="round"/>
<path d="M559.4,285.0 Q626.1,274.1 681.3,279.7 A5.5,5.5 0 0 1 681.7,290.7 Q615.5,289.7 549.6,295.0" fill="none" stroke="#151515" stroke-width="1.7" stroke-linejoin="round"/>
<path d="M572.9,302.0 Q630.2,280.3 673.2,290.8 A5.5,5.5 0 0 1 673.8,301.8 Q631.1,295.7 572.9,302.0" fill="none" stroke="#151515" stroke-width="1.7" stroke-linejoin="round"/>
<path d="M567.7,312.0 Q621.2,290.9 661.2,300.8 A5.5,5.5 0 0 1 661.8,311.8 Q622.1,306.2 567.7,312.0" fill="none" stroke="#151515" stroke-width="1.7" stroke-linejoin="round"/>
<path d="M561.3,324.0 Q615.1,302.8 655.2,312.8 A5.5,5.5 0 0 1 655.8,323.8 Q616.0,318.2 561.3,324.0" fill="none" stroke="#151515" stroke-width="1.7" stroke-linejoin="round"/>
<path d="M555.4,336.0 Q604.3,316.1 640.2,325.8 A5.5,5.5 0 0 1 640.8,336.8 Q605.1,331.5 555.4,336.0" fill="none" stroke="#151515" stroke-width="1.7" stroke-linejoin="round"/>
<path d="M550.1,346.0 Q594.7,326.7 627.2,335.8 A5.5,5.5 0 0 1 627.8,346.8 Q595.6,342.1 550.1,346.0" fill="none" stroke="#151515" stroke-width="1.7" stroke-linejoin="round"/>
<path d="M544.2,358.0 Q586.7,339.6 617.2,348.8 A5.5,5.5 0 0 1 617.8,359.8 Q587.5,355.0 544.2,358.0" fill="none" stroke="#151515" stroke-width="1.7" stroke-linejoin="round"/>
<path d="M538.6,368.0 Q580.4,350.6 610.7,359.3 A5.0,5.0 0 0 1 611.3,369.3 Q581.1,364.6 538.6,368.0" fill="none" stroke="#151515" stroke-width="1.7" stroke-linejoin="round"/>
<path d="M529.8,377.0 Q572.2,360.1 602.8,369.2 A5.0,5.0 0 0 1 603.2,379.2 Q572.8,374.1 529.8,377.0" fill="none" stroke="#151515" stroke-width="1.7" stroke-linejoin="round"/>
<path d="M522.0,385.0 Q566.2,370.2 598.9,379.1 A4.0,4.0 0 0 1 599.1,387.1 Q566.5,381.4 522.0,385.0" fill="none" stroke="#151515" stroke-width="1.7" stroke-linejoin="round"/>
<path d="M577.5,267.0 Q586.1,244.5 600.0,242.3 A5.0,5.0 0 0 1 606.3,250.0 Q595.0,255.3 577.5,267.0" fill="none" stroke="#151515" stroke-width="1.7" stroke-linejoin="round"/>
<path d="M566.7,278.0 Q576.8,257.1 590.1,256.6 A5.0,5.0 0 0 1 595.6,264.9 Q584.5,268.8 566.7,278.0" fill="none" stroke="#151515" stroke-width="1.7" stroke-linejoin="round"/>
<path d="M554.0,291.0 Q566.4,270.6 580.2,271.0 A5.0,5.0 0 0 1 585.0,279.8 Q573.1,282.8 554.0,291.0" fill="none" stroke="#151515" stroke-width="1.7" stroke-linejoin="round"/>
<path d="M542.3,303.0 Q556.3,283.2 570.4,284.6 A5.0,5.0 0 0 1 574.6,293.6 Q562.2,296.0 542.3,303.0" fill="none" stroke="#151515" stroke-width="1.7" stroke-linejoin="round"/>
<path d="M529.5,316.0 Q545.9,296.9 560.6,299.1 A5.0,5.0 0 0 1 564.1,308.4 Q550.8,310.0 529.5,316.0" fill="none" stroke="#151515" stroke-width="1.7" stroke-linejoin="round"/>
<path d="M515.8,330.0 Q543.9,310.1 566.1,314.2 A5.0,5.0 0 0 1 568.2,323.9 Q546.8,323.8 515.8,330.0" fill="none" stroke="#151515" stroke-width="1.7" stroke-linejoin="round"/>
<path d="M503.1,343.0 Q532.7,322.9 556.1,327.1 A5.0,5.0 0 0 1 558.1,336.9 Q535.5,336.6 503.1,343.0" fill="none" stroke="#151515" stroke-width="1.7" stroke-linejoin="round"/>
<path d="M493.3,353.0 Q524.6,332.6 549.1,337.0 A5.0,5.0 0 0 1 551.0,346.9 Q527.2,346.4 493.3,353.0" fill="none" stroke="#151515" stroke-width="1.7" stroke-linejoin="round"/>
<path d="M485.5,361.0 Q519.9,341.3 546.3,346.8 A5.0,5.0 0 0 1 547.8,356.7 Q522.0,355.1 485.5,361.0" fill="none" stroke="#151515" stroke-width="1.7" stroke-linejoin="round"/>
<path d="M476.7,370.0 Q510.9,351.4 536.4,357.6 A5.0,5.0 0 0 1 537.6,367.6 Q512.6,365.3 476.7,370.0" fill="none" stroke="#151515" stroke-width="1.7" stroke-linejoin="round"/>
<path d="M468.8,378.0 Q505.1,361.2 532.1,367.9 A4.5,4.5 0 0 1 532.9,376.9 Q506.2,373.7 468.8,378.0" fill="none" stroke="#151515" stroke-width="1.7" stroke-linejoin="round"/>
<path d="M463.0,384.0 Q499.1,369.3 525.8,376.2 A4.0,4.0 0 0 1 526.2,384.2 Q499.8,380.4 463.0,384.0" fill="none" stroke="#151515" stroke-width="1.7" stroke-linejoin="round"/>
<g fill="none" stroke="#2a2a2a" stroke-width="1.5">
<path d="M697,171 L773,158"/>
<path d="M636,206 L801,206"/>
<path d="M579,268 L744,267"/>
<path d="M636,206 L598,405"/>
</g>
</g>
<path d="M692,148 L773,157 C798,161 810,175 807,196 C806,200 805,202 803,205 L760,256 L717,300 L628,389 L466,390" fill="none" stroke="#222" stroke-width="1.4"/>
<!-- BODY -->
<g id="body">
  <!-- rear body gradient -->
  <path d="M556,405.9 L762,377 L810,343 L863,317 L920,294 L1000,264 L1000,300 L922,342 L913,367 L878,380 L826,397 L642,522 L600,540 L556,552 Z" fill="url(#rearg)"/>
  <path d="M240,461 C226,472 222,498 229,515 C233,523 239,529 246,531 L252,470 Z" fill="#d6d6d6" filter="url(#blur3)"/>
  <!-- front body -->
  <path d="M233,494 C233,474 244,460 262,455 L298,453 L327,448 L342,436 L560,405 L560,556 L440,579 L405,575.5 L364,571 L336,565 L317,557 L303,544 L288,530 L282,523 L242,522.5 C236,517 232,506 233,494 Z" fill="#5b5b5d"/>
  <path d="M282,523 L288,530 L303,544 L317,557 L336,565 L364,571 L405,575.5 L440,579 L560,556 L560,515 L440,522 L380,520 L330,505 L300,500 Z" fill="url(#bellyg)"/>
  <!-- nose highlight -->
  
  <!-- top surface band -->
  <path d="M342,436 L350,428 L466,392 L628,389 L745,371 L762,377 Z" fill="url(#bandg)"/>
</g>
<path d="M300,455 L322,441 L346,428 L374,433 L368,446 L336,452 Z" fill="#f0f0f0" filter="url(#blur2)"/>
<path d="M603,389 L598,406" stroke="#1a1a1a" stroke-width="1.6"/>
<!-- fin lower part cover (body top light strip right of wing) -->
<path d="M690,380 L745,371 L760,377 L700,386 Z" fill="#d0d0d0"/>

<!-- dark stabilizer -->
<path id="stab" fill-rule="nonzero" d="M743,374 L810,343 L863,317 L920,294 L967,276 L1071,236 C1079,232 1082,235 1077,241 L1033,273 L983,317 L922,342 L923,348 L913,367 L880,372 L840,380 L790,392 L750,395 Z" fill="#545557"/>

<!-- blue servo -->
<path d="M628,380 L690,377 L690,424 L628,426 Z" fill="#7b92b0"/>
<path d="M628,380 L650,379 L650,425 L628,426 Z" fill="#a2b7d6"/>
<path d="M648,362 L662,358 L686,360 L690,374 L666,376 L650,375 Z" fill="#d6e6f4"/>
<path d="M654,350 L662,347 L666,360 L656,362 Z" fill="#e6f0fa"/>

<!-- thin lines from servo to tail -->
<path d="M654,350 L863,317" fill="none" stroke="#222" stroke-width="1.4"/>
<path d="M686,361 L812,338" fill="none" stroke="#3a4aa0" stroke-width="1.4"/>

<!-- antenna cable -->
<path d="M639.0,437.0 C649.2,434.2 678.7,426.2 700.0,420.0 C721.3,413.8 744.8,406.7 767.0,400.0 C789.2,393.3 810.8,386.7 833.0,380.0 C855.2,373.3 873.3,368.0 900.0,360.0 C926.7,352.0 977.5,336.7 993.0,332.0" fill="none" stroke="#0d0d0d" stroke-width="4.5"/>
<path d="M993,332 C1060,320 1120,313 1170,312" fill="none" stroke="#333" stroke-width="1.5"/>

<!-- motor housing -->
<path d="M420,497 L470,492 L560,520 L562,553 Q562,558 557,559 L440,579 L420,572 Z" fill="url(#housg)"/>
<!-- yellow cylinder -->
<rect x="412" y="444" width="56" height="38" rx="10" fill="#e8b620"/>
<rect x="414" y="446" width="50" height="14" rx="6" fill="#f6d04a"/>
<!-- housing ring -->
<ellipse cx="440" cy="540" rx="22" ry="36" fill="#d2d2d2"/>
<!-- disk 2 -->
<ellipse cx="433" cy="540" rx="17.5" ry="32" fill="#0e0e0e"/>
<g fill="#fff"><circle cx="434" cy="522" r="2"/><circle cx="443" cy="531" r="2"/><circle cx="445" cy="550" r="2"/><circle cx="436" cy="559" r="2"/><circle cx="424" cy="540" r="2"/></g>
<!-- disk 1 -->
<ellipse cx="397" cy="509" rx="16.5" ry="30" fill="#0e0e0e"/>
<g fill="#fff"><circle cx="395" cy="489" r="2"/><circle cx="403" cy="498" r="2"/><circle cx="404" cy="517" r="2"/><circle cx="396" cy="526" r="2"/></g>
<!-- frame plate -->
<path d="M408,455 L419,453 L423,470 L432,497 L432,556 L425,566 L398,568 L394,546 L410,538 L412,500 Z" fill="#bdbdbd" stroke="#1a1a1a" stroke-width="1.6" stroke-linejoin="round"/>
<path d="M398,545 L398,562 L404,562 L404,545" fill="#9a9a9a" stroke="#1a1a1a" stroke-width="1.3"/>
<!-- vertical arm -->
<path d="M370,467 L380,463 L390,566 L381,570 Z" fill="#bdbdbd" stroke="#1a1a1a" stroke-width="1.6" stroke-linejoin="round"/>
<circle cx="385.5" cy="565" r="3" fill="#ddd" stroke="#111" stroke-width="1.4"/>
<!-- links -->
<path d="M345,432 L351,426 L383,464 L376,471 Z" fill="#b5b5b5" stroke="#1a1a1a" stroke-width="1.6" stroke-linejoin="round"/>
<path d="M407,434 L415,441 L381,472 L373,465 Z" fill="#b5b5b5" stroke="#1a1a1a" stroke-width="1.6" stroke-linejoin="round"/>
<circle cx="377" cy="468.5" r="3" fill="#ddd" stroke="#111" stroke-width="1.4"/>
<!-- white rect on head -->
<rect x="331" y="447" width="13" height="31" fill="#fafafa"/>
<!-- eye hole -->
<ellipse cx="250" cy="492" rx="2.2" ry="3" fill="none" stroke="#222" stroke-width="1.2"/>
<!-- wind sensor body -->
<path d="M279,497 L293,481 L342,524 Q345,532 338,538 L334,541 Q330,543 326,540 Z" fill="#a9a9a9" stroke="#222" stroke-width="1.3" stroke-linejoin="round"/>
<ellipse cx="286" cy="489" rx="8.5" ry="11.5" transform="rotate(42 286 489)" fill="#f6f6f6" stroke="#222" stroke-width="1.3"/>
<ellipse cx="286" cy="489" rx="4.5" ry="6.5" transform="rotate(45 286 489)" fill="#78c490" stroke="#244a30" stroke-width="1.2"/>
<!-- grey wire -->
<path d="M336,535 C350,548 372,548 385,535 C395,520 400,500 410,490" fill="none" stroke="#555" stroke-width="1.4"/>
<!-- rod -->
<path d="M287,522 L381,507" stroke="#222" stroke-width="7" stroke-linecap="round"/>
<path d="M287,522 L381,507" stroke="#b0b0b0" stroke-width="4.4" stroke-linecap="round"/>
<!-- blue cable -->
<path d="M380,506 L414,506 C430,505 440,490 460,482" fill="none" stroke="#1e2e60" stroke-width="6.5"/>
<path d="M380,506 L414,506 C430,505 440,490 460,482" fill="none" stroke="#5472c4" stroke-width="4"/>

<!-- wires right of red box -->
<path d="M640,470 C652,474 666,484 666,493 C666,503 652,512 640,518 M640,476 C650,480 660,486 660,493 C660,500 650,506 640,511 M640,482 C648,485 654,489 654,493 C654,497 648,501 640,504" fill="none" stroke="#231d12" stroke-width="2.2"/>
<path d="M632,432 C633,420 636,412 640,408 M640,432 C640,420 643,412 646,408" fill="none" stroke="#3a3020" stroke-width="2"/>

<!-- black strip above red box -->
<path d="M472,438 L614,423.5 L614,433 L472,448 Z" fill="#111"/>
<!-- red box -->
<path d="M468,448 L630,432 Q641,431 641,442 L641,536 Q641,544 630,545 L468,560 Q457,561 457,550 L457,459 Q457,449 468,448 Z" fill="#7a1f1c"/>
<path d="M468,448 Q457,449 457,459 L457,550 Q457,561 468,560 L462,558 Q461,556 461,550 L461,460 Q461,452 468,448 Z" fill="#5e120d"/>
<path d="M479,450.5 L530.4,447.8 L530.4,516.6 L479,519.3 Z" fill="#9b9b9b"/>
<path d="M479,450.5 L530.4,447.8 L530.4,449.8 L481,452.5 L481,519.2 L479,519.3 Z" fill="#c8c8c8"/>
<path d="M606,494 L641,494" stroke="#4a1410" stroke-width="1.2"/>
<!-- camera -->
<path d="M598,546 L624,544 L624,556 Q624,562 618,562 L604,563 Q598,563 598,557 Z" fill="#111"/>

<line x1="31" y1="12" x2="350" y2="430" stroke="#000" stroke-width="4"/>
<line x1="692" y1="148" x2="413" y2="433" stroke="#000" stroke-width="4"/>

<g fill="none" stroke="#222" stroke-width="2" stroke-dasharray="5 4.6">
  <path d="M535.5,113 L535.5,428"/>
  <path d="M1112.7,113 L1112.7,308"/>
  <path d="M70.3,389 L70.3,447 L327,447"/>
  <path d="M91.4,522.8 L285,522.8"/>
  <path d="M670,494 L790,494"/>
  <path d="M610.5,564 L610.5,612 L682,612"/>
  <path d="M326,530 L326,630"/>
  <path d="M508,573 L508,630"/>
</g>

<text x="495" y="98.7" textLength="129.3" lengthAdjust="spacingAndGlyphs">Data link</text>
<text x="928.2" y="98" textLength="254.8" lengthAdjust="spacingAndGlyphs">Data link antenna</text>
<text x="16" y="334.3" textLength="128" lengthAdjust="spacingAndGlyphs">Flapping</text>
<text x="17" y="376" textLength="168" lengthAdjust="spacingAndGlyphs">mechanism</text>
<text x="9.2" y="519.5" textLength="70.8" lengthAdjust="spacingAndGlyphs">Wind</text>
<text x="8.2" y="561.4" textLength="86.3" lengthAdjust="spacingAndGlyphs">speed</text>
<text x="8.2" y="604" textLength="96.2" lengthAdjust="spacingAndGlyphs">sensor</text>
<text x="799" y="508.8" textLength="306" lengthAdjust="spacingAndGlyphs">Flight control system</text>
<text x="697" y="628" textLength="110" lengthAdjust="spacingAndGlyphs">Camera</text>
</svg>
</body></html>
